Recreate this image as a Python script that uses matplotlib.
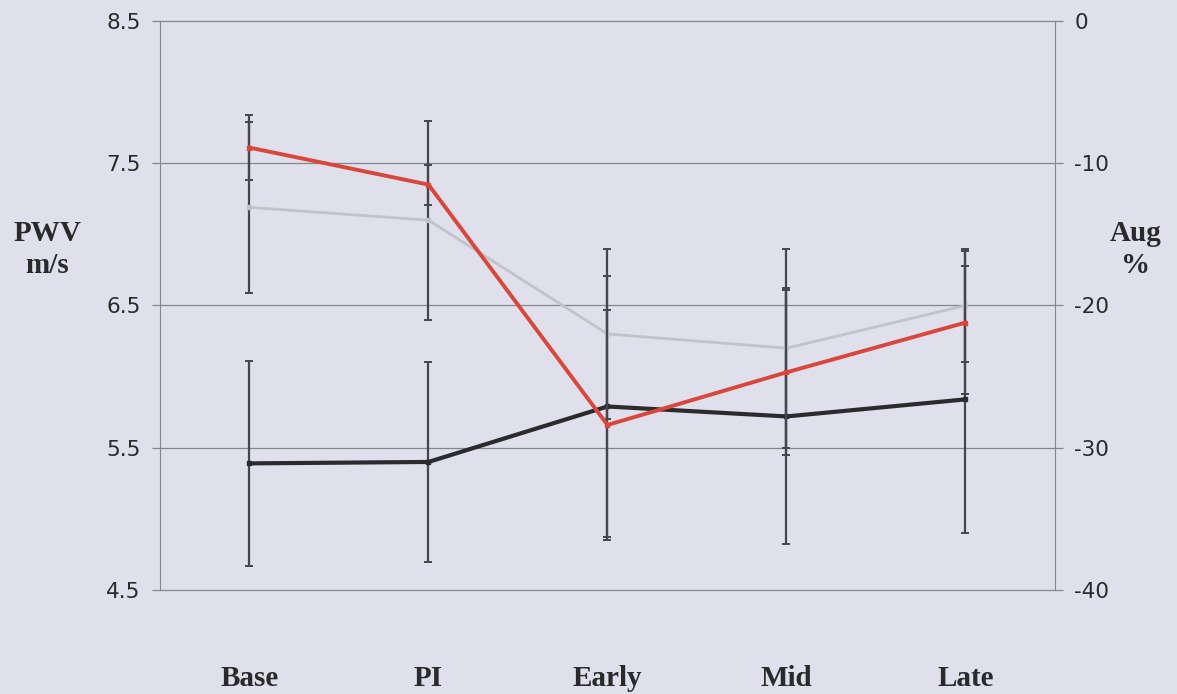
import matplotlib
matplotlib.use("Agg")
import matplotlib.pyplot as plt

# ---- data ----
categories = ["Base", "PI", "Early", "Mid", "Late"]
pwv = [5.39, 5.40, 5.79, 5.72, 5.84]          # m/s, left axis (black)
pwv_err = [0.72, 0.70, 0.92, 0.90, 0.94]
aug_red = [-8.9, -11.5, -28.4, -24.7, -21.2]   # %, right axis (red)
aug_red_err = [2.3, 1.4, 8.1, 5.8, 5.0]
aug_grey = [-13.1, -14.0, -22.0, -23.0, -20.0]  # %, right axis (grey)
aug_grey_err = [6.0, 7.0, 6.0, 7.0, 4.0]
left_ticks = [4.5, 5.5, 6.5, 7.5, 8.5]
right_ticks = [-40, -30, -20, -10, 0]

bg = "#e0e0ec"
err_col = "#45454d"
grid_col = "#85858d"

fig = plt.figure(figsize=(11.77, 6.94), dpi=100, facecolor=bg)
ax = fig.add_axes([0.1359, 0.1499, 0.7604, 0.8198])
ax.set_facecolor(bg)
ax2 = ax.twinx()
ax2.patch.set_visible(False)

x = list(range(len(categories)))

ax.errorbar(x, pwv, yerr=pwv_err, color="#2b2b2e", lw=3, marker="s", ms=3,
            ecolor=err_col, elinewidth=1.6, capsize=3, capthick=1.4, zorder=3)
ax2.errorbar(x, aug_grey, yerr=aug_grey_err, color="#c2c2ca", lw=2, marker="s", ms=3,
             ecolor=err_col, elinewidth=1.6, capsize=3, capthick=1.4, zorder=3)
ax2.errorbar(x, aug_red, yerr=aug_red_err, color="#d9473c", lw=2.8, marker="s", ms=3.5,
             ecolor=err_col, elinewidth=1.6, capsize=3, capthick=1.4, zorder=4)

ax.set_xlim(-0.5, len(categories) - 0.5)
ax.set_ylim(4.5, 8.5)
ax2.set_ylim(-40, 0)
ax.set_yticks(left_ticks)
ax.set_yticklabels([f"{v:.1f}" for v in left_ticks])
ax2.set_yticks(right_ticks)
ax2.set_yticklabels([str(v) for v in right_ticks])

for t in left_ticks:
    ax.axhline(t, color=grid_col, lw=0.9, zorder=1, clip_on=False)

for a in (ax, ax2):
    for s in ("top", "bottom"):
        a.spines[s].set_visible(False)
ax.spines["left"].set_color(grid_col)
ax2.spines["right"].set_color(grid_col)
ax.spines["right"].set_visible(False)
ax2.spines["left"].set_visible(False)

ax.tick_params(axis="y", length=6, width=0.9, color=grid_col, labelsize=15.5,
               labelcolor="#2a2a2a", pad=8)
ax2.tick_params(axis="y", length=6, width=0.9, color=grid_col, labelsize=15.5,
                labelcolor="#2a2a2a", pad=8)
ax.set_xticks(x)
ax.set_xticklabels(categories, family="Liberation Serif", fontweight="bold",
                   fontsize=21, color="#2a2a2a")
ax.tick_params(axis="x", length=0, pad=54)

fig.text(0.040, 0.64, "PWV\nm/s", family="Liberation Serif", fontweight="bold",
         fontsize=21, color="#2a2a2a", ha="center", va="center", linespacing=1.25)
fig.text(0.965, 0.64, "Aug\n%", family="Liberation Serif", fontweight="bold",
         fontsize=21, color="#2a2a2a", ha="center", va="center", linespacing=1.25)

fig.savefig("out.png", dpi=100, facecolor=bg)
